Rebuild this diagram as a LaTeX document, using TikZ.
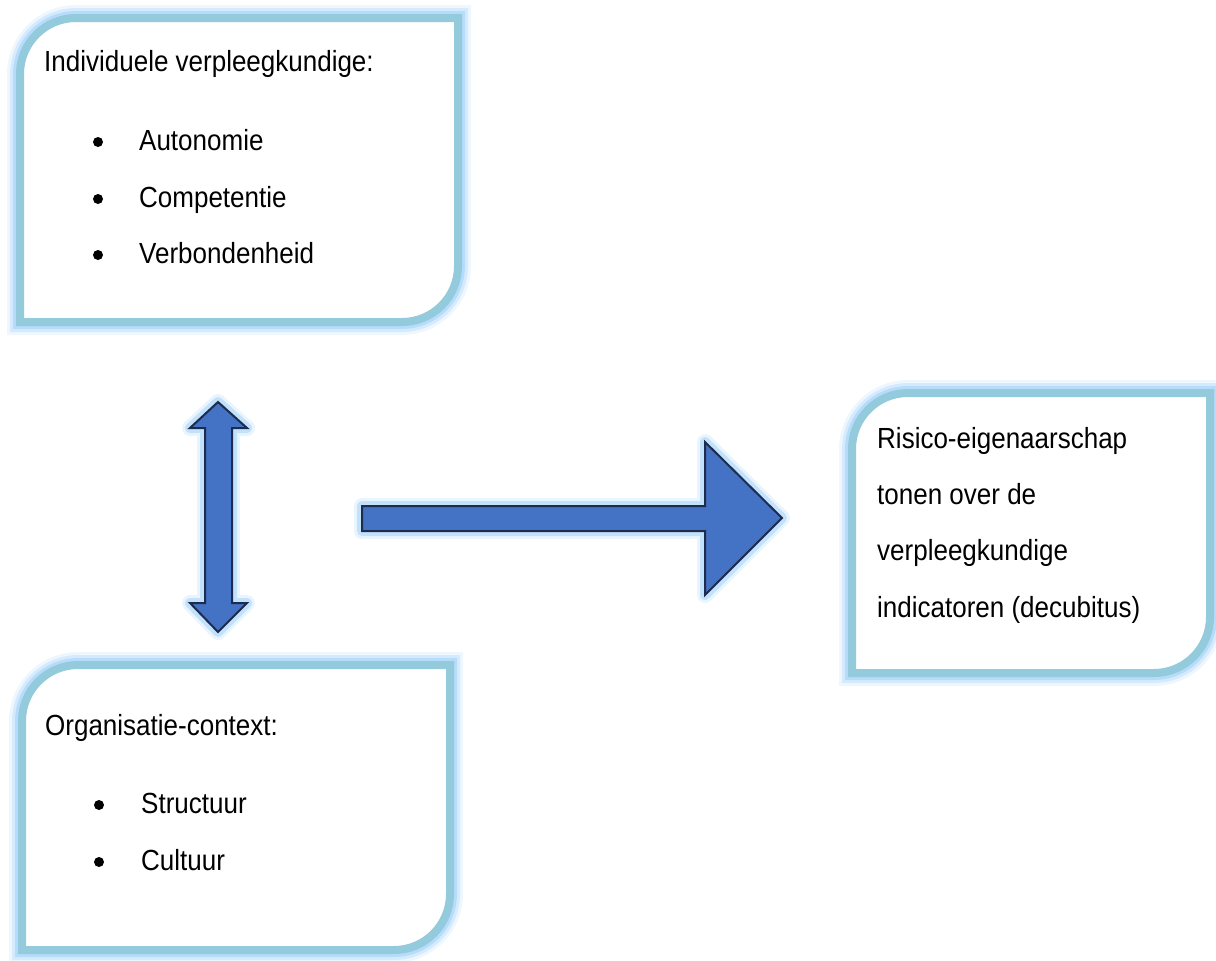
\documentclass[tikz,border=0pt]{standalone}
\usepackage{fontspec}
\setmainfont{Liberation Sans}
\definecolor{rim}{HTML}{93CADC}
\definecolor{halo}{HTML}{A8D5FA}
\definecolor{arrowfill}{HTML}{4472C4}
\definecolor{arrowline}{HTML}{1D2B4D}
\newcommand{\txt}[1]{\scalebox{1}[1.12]{\fontsize{26}{30}\selectfont #1}}
% panel outline: square corners except top-left and bottom-right
% #1 left, #2 top, #3 right, #4 bottom, #5 corner radius (y grows downwards)
\newcommand{\panelpath}[5]{%
  (#1,#4) -- (#1,#2+#5)
  .. controls (#1,#2+0.448*#5) and (#1+0.448*#5,#2) .. (#1+#5,#2)
  -- (#3,#2) -- (#3,#4-#5)
  .. controls (#3,#4-0.448*#5) and (#3-0.448*#5,#4) .. (#3-#5,#4)
  -- cycle}
\newcommand{\panel}[5]{%
  \draw[halo, opacity=0.2, line width=26pt] \panelpath{#1}{#2}{#3}{#4}{#5};
  \draw[halo, opacity=0.35, line width=20pt] \panelpath{#1}{#2}{#3}{#4}{#5};
  \draw[halo, opacity=0.7, line width=14pt] \panelpath{#1}{#2}{#3}{#4}{#5};
  \draw[rim, line width=8pt, fill=white] \panelpath{#1}{#2}{#3}{#4}{#5};}
\tikzset{
  label/.style={anchor=base west, inner sep=0pt},
  dot/.style={circle, fill=black, inner sep=0pt, minimum size=10pt},
  blockglow/.style={halo, line join=round, line width=#1},
  blockarrow/.style={fill=arrowfill, draw=arrowline, line width=2pt, line join=miter}
}
\begin{document}
\begin{tikzpicture}[x=1pt, y=-1pt]
\useasboundingbox (0,0) rectangle (1216,961);

% three panels
\panel{20}{18}{458}{322}{56}
\panel{22}{665}{450}{950}{56}
\panel{852}{393}{1210}{673}{56}

% individual nurse
\node[label] (ind) at (44,71) {\txt{Individuele verpleegkundige:}};
\node[dot] (b1) at (98,142) {};
\node[label] (aut) at (139,150) {\txt{Autonomie}};
\node[dot] (b2) at (98,199) {};
\node[label] (com) at (139,207) {\txt{Competentie}};
\node[dot] (b3) at (98,255) {};
\node[label] (ver) at (139,263) {\txt{Verbondenheid}};

% organisation context
\node[label] (org) at (45,735) {\txt{Organisatie-context:}};
\node[dot] (b4) at (99,805) {};
\node[label] (str) at (141,813) {\txt{Structuur}};
\node[dot] (b5) at (99,862) {};
\node[label] (cul) at (141,870) {\txt{Cultuur}};

% outcome
\node[label] (r1) at (877,448) {\txt{Risico-eigenaarschap}};
\node[label] (r2) at (877,504) {\txt{tonen over de}};
\node[label] (r3) at (877,560) {\txt{verpleegkundige}};
\node[label] (r4) at (877,617) {\txt{indicatoren (decubitus)}};

% two-way arrow between the panels on the left
\foreach \w/\o in {16pt/0.25, 10pt/0.6}
  \draw[blockglow=\w, opacity=\o]
    (218,402) -- (247,428) -- (232,428) -- (232,603) -- (247,603) -- (218,632)
    -- (190,603) -- (205,603) -- (205,428) -- (190,428) -- cycle;
\draw[blockarrow]
    (218,402) -- (247,428) -- (232,428) -- (232,603) -- (247,603) -- (218,632)
    -- (190,603) -- (205,603) -- (205,428) -- (190,428) -- cycle;

% arrow towards the outcome
\foreach \w/\o in {16pt/0.25, 10pt/0.6}
  \draw[blockglow=\w, opacity=\o]
    (362,506) -- (705,506) -- (705,442) -- (782,518) -- (705,595) -- (705,531)
    -- (362,531) -- cycle;
\draw[blockarrow]
    (362,506) -- (705,506) -- (705,442) -- (782,518) -- (705,595) -- (705,531)
    -- (362,531) -- cycle;
\end{tikzpicture}
\end{document}
